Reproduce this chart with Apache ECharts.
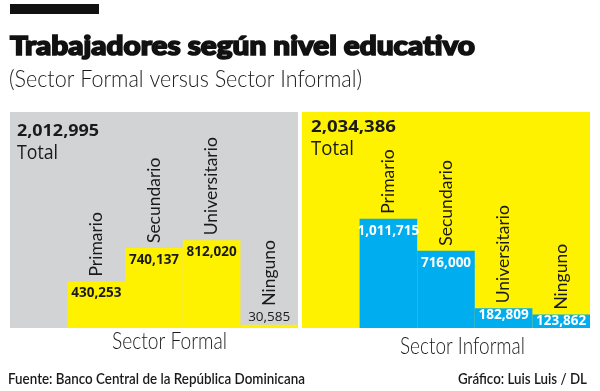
<!DOCTYPE html>
<html><head><meta charset="utf-8">
<script src="https://cdn.jsdelivr.net/npm/echarts@6/dist/echarts.min.js"></script>
<style>html,body{margin:0;padding:0;background:#fff}#c{width:600px;height:391px}</style>
</head><body><div id="c"></div>
<script>
// ---- data ----
const categories = ['Primario', 'Secundario', 'Universitario', 'Ninguno'];
const formalValues = [430253, 740137, 812020, 30585];
const informalValues = [1011715, 716000, 182809, 123862];
const totals = [2012995, 2034386];
const sectorNames = ['Sector Formal', 'Sector Informal'];
const titleText = 'Trabajadores según nivel educativo';
const subtitleText = '(Sector Formal versus Sector Informal)';
const sourceText = 'Fuente: Banco Central de la República Dominicana';
const creditText = 'Gráfico: Luis Luis / DL';
const yMax = 2000000;

// ---- style ----
const GRAY = '#d2d3d5', YELLOW = '#fff200', BLUE = '#00aeef', INK = '#1a1a1a';
const fmt = v => Number(v).toLocaleString('en-US');

const ctx = document.createElement('canvas').getContext('2d');
function txt(text, x, y, font, w, align, extra) {
  ctx.font = font;
  const s = w ? w / ctx.measureText(text).width : 1;
  return {
    type: 'text', x: x, y: y, scaleX: s, silent: true,
    style: Object.assign({ text: text, font: font, fill: INK, textAlign: align || 'left', textVerticalAlign: 'middle' }, extra || {})
  };
}

function panelSeries(gi, values, barColor, labelColor) {
  const valueData = ['-'].concat(values.map(v => {
    const tiny = v < yMax * 0.03;
    const small = v < yMax * 0.1;
    const item = { value: v };
    if (tiny) item.label = { position: 'top', distance: 1, fontWeight: 400, color: INK };
    else if (small) item.label = { distance: 0 };
    return item;
  }));
  const nameData = ['-'].concat(values.map(v => {
    const tiny = v < yMax * 0.03;
    const item = { value: v };
    if (tiny) item.label = { distance: 19 };
    return item;
  }));
  return [{
    type: 'bar', xAxisIndex: gi, yAxisIndex: gi, barWidth: '100%', barGap: '-100%',
    data: valueData, itemStyle: { color: barColor }, silent: true,
    label: {
      show: true, position: 'insideTop', distance: 5,
      formatter: p => fmt(p.value),
      fontFamily: 'Open Sans', fontWeight: 700, fontSize: 13.5, color: labelColor
    }
  }, {
    type: 'bar', xAxisIndex: gi, yAxisIndex: gi, barWidth: '100%', barGap: '-100%',
    data: nameData, itemStyle: { color: 'rgba(0,0,0,0)' }, silent: true, z: 3,
    label: {
      show: true, position: 'top', distance: 5, rotate: 90, align: 'left', verticalAlign: 'middle',
      formatter: p => p.name,
      fontFamily: 'Lato', fontSize: 17.5, color: INK
    }
  }];
}

const chart = echarts.init(document.getElementById('c'), null, { renderer: 'canvas' });
const axisCats = [''].concat(categories);
chart.setOption({
  animation: false,
  grid: [
    { left: 10, top: 112, width: 288, height: 216, show: true, backgroundColor: GRAY, borderWidth: 0 },
    { left: 302, top: 112, width: 288, height: 216, show: true, backgroundColor: YELLOW, borderWidth: 0 }
  ],
  xAxis: [0, 1].map(i => ({ type: 'category', gridIndex: i, data: axisCats, show: false })),
  yAxis: [0, 1].map(i => ({ type: 'value', gridIndex: i, min: 0, max: yMax, show: false })),
  series: panelSeries(0, formalValues, YELLOW, INK).concat(panelSeries(1, informalValues, BLUE, '#ffffff')),
  graphic: [
    { type: 'rect', shape: { x: 10, y: 4, width: 89, height: 10 }, style: { fill: '#111' }, silent: true },
    txt(titleText, 10, 46.5, '900 26px Lato', 465, 'left', { stroke: '#111', lineWidth: 1.6, fill: '#111' }),
    txt(subtitleText, 9, 80, '300 23px Lato', 353),
    txt(fmt(totals[0]), 17, 131, 'bold 16px "Open Sans"', 82),
    txt('Total', 17, 153, '20px "Open Sans"', 41),
    txt(fmt(totals[1]), 311, 127, 'bold 16px "Open Sans"', 85),
    txt('Total', 311, 149, '20px "Open Sans"', 43),
    txt(sectorNames[0], 112, 342, '300 23px Lato', 115),
    txt(sectorNames[1], 400, 347, '300 23px Lato', 125),
    txt(sourceText, 8, 379.5, '600 14.5px Lato', 297),
    txt(creditText, 587, 379.5, '600 14.5px Lato', 129, 'right')
  ]
});
</script>
</body></html>
